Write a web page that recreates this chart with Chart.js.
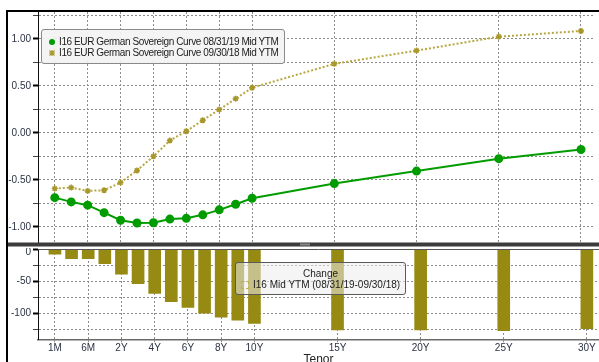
<!DOCTYPE html>
<html>
<head>
<meta charset="utf-8">
<script src="https://cdn.jsdelivr.net/npm/chart.js@4.4.1/dist/chart.umd.min.js"></script>
<style>
  html, body { margin: 0; padding: 0; background: #fff; }
  #wrap { position: relative; width: 599px; height: 362px; overflow: hidden; font-family: "Liberation Sans", Arial, sans-serif; }
  #topChart { position: absolute; left: 0; top: 0; }
  #botChart { position: absolute; left: 0; top: 248px; }
  .frame { position: absolute; background: #000; }
  .leg { position: absolute; border: 1px solid #8a8a8a; border-radius: 3px; font-size: 10px; color: #1c1c1c; line-height: 11px; white-space: nowrap; }
  #legTop { left: 41px; top: 29px; width: 235px; height: 27px; padding: 6px 0 0 7px; background: rgba(243, 243, 243, 0.92); letter-spacing: -0.4px; }
  #legBot { left: 235px; top: 262px; width: 164px; height: 26px; padding: 5px 0 0 5px; background: rgba(236, 236, 236, 0.55); border-color: #5a5a5a; }
  .row { display: flex; align-items: center; height: 11px; }
  .row > * { flex-shrink: 0; }
  .dot { width: 6px; height: 6px; border-radius: 50%; background: #009c00; margin-right: 4px; }
  .star { width: 6px; height: 6px; margin-right: 4px; }
  .sq { width: 6px; height: 6px; border: 1px dashed #bfae55; margin-right: 4px; }
  .center { justify-content: center; padding-right: 5px; }
</style>
</head>
<body>
<div id="wrap">
  <canvas id="topChart" width="599" height="248"></canvas>
  <canvas id="botChart" width="599" height="114"></canvas>
  <div class="frame" style="left:6px; top:10px; width:2px; height:352px;"></div>
  <div class="frame" style="left:6px; top:10px; width:593px; height:2px;"></div>
  <div id="legTop" class="leg"></div>
  <div id="legBot" class="leg"></div>
</div>
<script>
// tenors along the x axis (short end spaced evenly, long end by years)
const tenors = ['1M', '3M', '6M', '1Y', '2Y', '3Y', '4Y', '5Y', '6Y', '7Y', '8Y', '9Y', '10Y', '15Y', '20Y', '25Y', '30Y'];
const tenorAxis = [0, 1, 2, 3, 4, 5, 6, 7, 8, 9, 10, 11, 12, 17, 22, 27, 32];
const tickTenors = ['1M', '6M', '2Y', '4Y', '6Y', '8Y', '10Y', '15Y', '20Y', '25Y', '30Y'];

const nameNow = 'I16 EUR German Sovereign Curve 08/31/19 Mid YTM';
const nameOld = 'I16 EUR German Sovereign Curve 09/30/18 Mid YTM';
const nameChange = 'I16 Mid YTM (08/31/19-09/30/18)';

const curveNow = [-0.69, -0.735, -0.77, -0.85, -0.93, -0.96, -0.957, -0.918, -0.91, -0.873, -0.82, -0.76, -0.696, -0.54, -0.407, -0.275, -0.177];
const curveOld = [-0.593, -0.583, -0.618, -0.611, -0.53, -0.40, -0.25, -0.082, 0.017, 0.134, 0.247, 0.363, 0.48, 0.734, 0.875, 1.023, 1.084];
const changeBp = [-8, -15, -15, -23, -39, -54, -69, -82, -91, -100, -106, -111, -116, -126, -126, -127, -124];

const topTicks = [1.25, 1, 0.75, 0.5, 0.25, 0, -0.25, -0.5, -0.75, -1];
const botTicks = [0, -25, -50, -75, -100, -125];
const zeroLabelAt = -5.5; // the "0" label sits just under the top edge

const green = '#009c00';
const gold = '#b8a73e';
const olive = '#968a12';
const tickFont = { family: 'Liberation Sans', size: 10 };
const tickColor = '#2b3243';
const gridColor = '#8c8c8c';

const pts = vals => vals.map((v, i) => ({ x: tenorAxis[i], y: v }));

function xAxis(showLabels) {
    return {
        type: 'linear',
        min: -1.02,
        max: 32.73,
        bounds: 'data',
        offset: false,
        afterBuildTicks: s => { s.ticks = tickTenors.map(t => ({ value: tenorAxis[tenors.indexOf(t)] })); },
        afterFit: s => {
            s.height = showLabels ? 22.7 : 0;
            s.paddingLeft = 0; s.paddingRight = 0;
        },
        grid: { offset: false, color: gridColor, drawTicks: showLabels, tickLength: 3, tickColor: '#888' },
        border: { display: showLabels, color: '#6a6a6a', width: 1.5, dash: [2, 2] },
        ticks: {
            display: showLabels, padding: 0, maxRotation: 0, autoSkip: false,
            color: tickColor, font: tickFont,
            callback: v => tenors[tenorAxis.indexOf(v)]
        },
        title: {
            display: showLabels, text: 'Tenor', color: '#222',
            font: { family: 'Liberation Sans', size: 12 },
            padding: { top: 0, bottom: -4.6 }
        }
    };
}

function yAxis(min, max, tickVals, isMajor, fmt, isLabelOnly) {
    const hidden = v => isLabelOnly && isLabelOnly(v);
    return {
        min: min,
        max: max,
        bounds: 'data',
        afterBuildTicks: s => { s.ticks = tickVals.map(v => ({ value: v })); },
        afterFit: s => { s.width = 38; s.paddingTop = 0; s.paddingBottom = 0; },
        grid: {
            color: c => hidden(c.tick.value) ? 'rgba(0,0,0,0)' : gridColor,
            tickLength: 5,
            tickColor: c => hidden(c.tick.value) ? 'rgba(0,0,0,0)' : (isMajor(c.tick.value) ? '#000' : '#444'),
            tickWidth: c => isMajor(c.tick.value) ? 2 : 1
        },
        border: { color: '#111', width: 1, dash: [2, 2] },
        ticks: {
            padding: 2, color: tickColor, font: tickFont,
            callback: v => fmt(v)
        }
    };
}

// thick separator between the two panels
const separator = {
    id: 'separator',
    afterDraw(chart) {
        const ctx = chart.ctx;
        ctx.save();
        ctx.fillStyle = '#3c3c3c';
        ctx.fillRect(7, 242.5, 592, 4);
        ctx.fillStyle = '#8a8a8a';
        ctx.fillRect(300, 243.5, 10, 2);
        ctx.restore();
    }
};

const topLine = {
    id: 'topLine',
    afterDraw(chart) {
        const ctx = chart.ctx, a = chart.chartArea;
        ctx.save();
        ctx.strokeStyle = '#555';
        ctx.lineWidth = 1;
        ctx.beginPath();
        ctx.moveTo(a.left, a.top + 0.5);
        ctx.lineTo(a.right, a.top + 0.5);
        ctx.stroke();
        ctx.restore();
    }
};

const topIsMajor = v => Math.abs(v * 2 - Math.round(v * 2)) < 1e-9;

new Chart(document.getElementById('topChart'), {
    type: 'line',
    data: {
        datasets: [{
            label: nameNow,
            data: pts(curveNow),
            borderColor: green,
            borderWidth: 2,
            pointRadius: 3.5,
            pointBackgroundColor: green,
            pointBorderColor: green,
            tension: 0
        }, {
            label: nameOld,
            data: pts(curveOld),
            borderColor: gold,
            borderWidth: 2,
            borderDash: [2, 2],
            pointStyle: 'star',
            pointRadius: 3,
            pointBorderWidth: 1.5,
            pointBorderColor: '#a8982c',
            tension: 0
        }]
    },
    options: {
        responsive: false,
        animation: false,
        events: [],
        layout: { padding: { top: 12, bottom: 5, left: 0, right: 0 } },
        scales: {
            x: xAxis(false),
            y: yAxis(-1.162, 1.286, topTicks, topIsMajor, v => topIsMajor(v) ? v.toFixed(2) : '')
        },
        plugins: { legend: { display: false }, tooltip: { enabled: false } }
    },
    plugins: [separator]
});

new Chart(document.getElementById('botChart'), {
    type: 'bar',
    data: {
        datasets: [{
            label: nameChange,
            data: pts(changeBp),
            backgroundColor: olive,
            barThickness: 12
        }]
    },
    options: {
        responsive: false,
        animation: false,
        events: [],
        layout: { padding: { top: 1, bottom: 0, left: 0, right: 0 } },
        scales: {
            x: xAxis(true),
            y: yAxis(-140.6, 0, botTicks.concat([zeroLabelAt]),
                v => v % 50 === 0,
                v => v === zeroLabelAt ? '0' : (v !== 0 && v % 50 === 0 ? String(v) : ''),
                v => v === zeroLabelAt)
        },
        plugins: { legend: { display: false }, tooltip: { enabled: false } }
    },
    plugins: [topLine]
});

// legends
const starSvg = '<svg class="star" viewBox="0 0 6 6"><path d="M0.5 0.5L5.5 5.5M5.5 0.5L0.5 5.5M3 0V6M0 3H6" stroke="#a8982c" stroke-width="1.2"/></svg>';
document.getElementById('legTop').innerHTML =
    '<div class="row"><span class="dot"></span><span>' + nameNow + '</span></div>' +
    '<div class="row">' + starSvg + '<span>' + nameOld + '</span></div>';
document.getElementById('legBot').innerHTML =
    '<div class="row center"><span>Change</span></div>' +
    '<div class="row"><span class="sq"></span><span>' + nameChange + '</span></div>';
</script>
</body>
</html>
